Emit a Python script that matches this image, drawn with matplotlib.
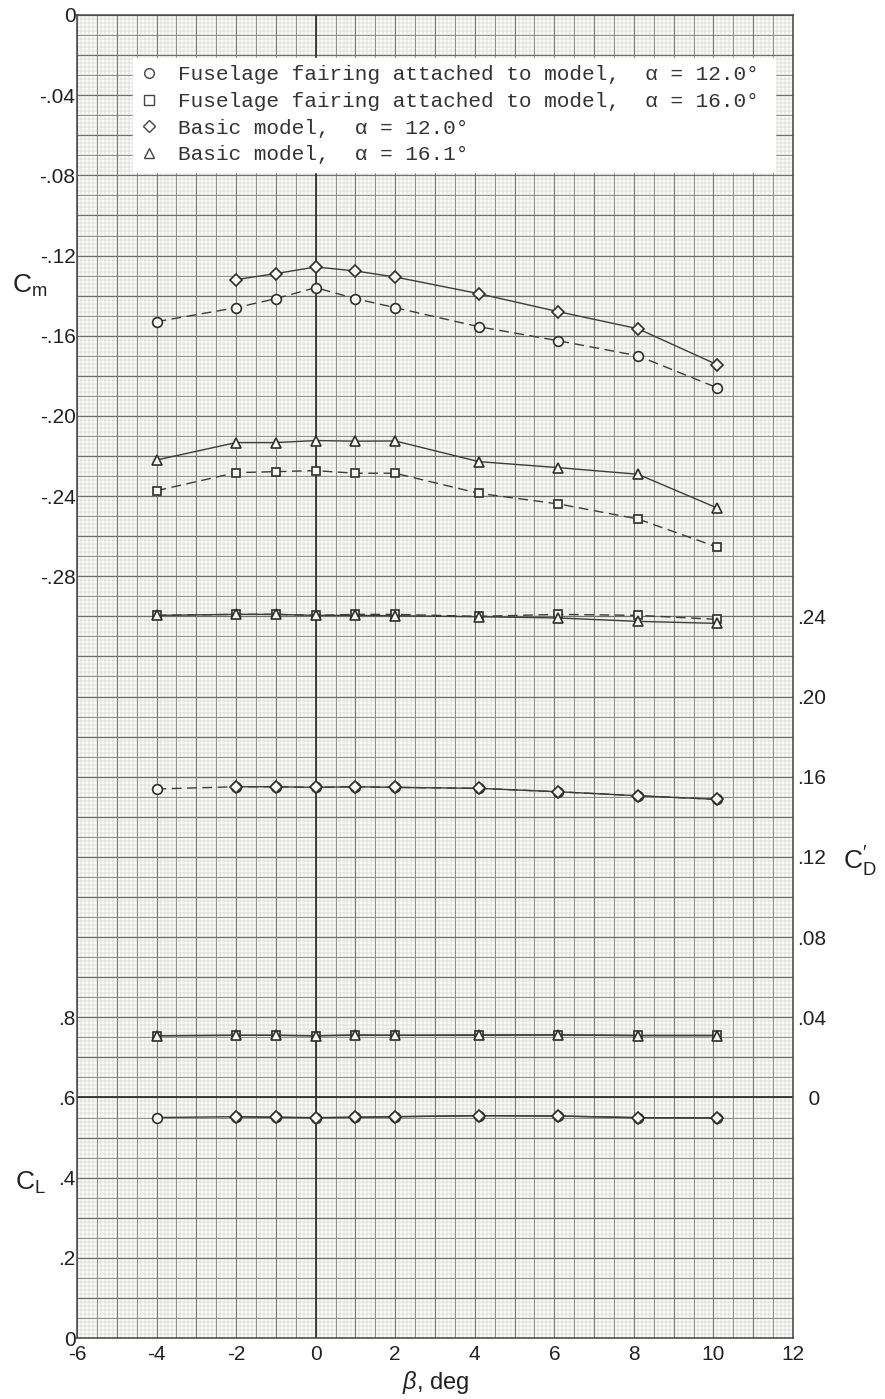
import matplotlib
matplotlib.use("Agg")
import matplotlib.pyplot as plt
import numpy as np
from matplotlib.lines import Line2D
from matplotlib.ticker import FixedLocator, FixedFormatter

# ---------------- data ----------------
beta = [-4.0, -2.0, -1.0, 0.0, 1.0, 2.0, 4.1, 6.1, 8.1, 10.1]
beta_basic12 = [-2.0, -1.0, 0.0, 1.0, 2.0, 4.1, 6.1, 8.1, 10.1]

cm_fair12 = [-0.153, -0.146, -0.1415, -0.136, -0.1415, -0.146, -0.1555, -0.1625, -0.170, -0.186]
cm_fair16 = [-0.2373, -0.2283, -0.2278, -0.2273, -0.2286, -0.2286, -0.2386, -0.2439, -0.2514, -0.2655]
cm_basic12 = [-0.132, -0.129, -0.1257, -0.1277, -0.1307, -0.139, -0.148, -0.1565, -0.1745]
cm_basic16 = [-0.222, -0.2133, -0.2133, -0.2123, -0.2126, -0.2125, -0.2228, -0.2258, -0.2291, -0.246]

cd_fair12 = [0.1539, 0.1550, 0.1550, 0.1547, 0.1550, 0.1547, 0.1542, 0.1525, 0.1505, 0.1487]
cd_basic12 = [0.1550, 0.1550, 0.1547, 0.1550, 0.1547, 0.1542, 0.1525, 0.1505, 0.1487]
cd_fair16 = [0.2405, 0.2410, 0.2410, 0.2405, 0.2410, 0.2410, 0.2400, 0.2410, 0.2405, 0.2385]
cd_basic16 = [0.2405, 0.2410, 0.2410, 0.2405, 0.2405, 0.2403, 0.2398, 0.2392, 0.2375, 0.2365]

cl_fair12 = [0.550, 0.552, 0.5505, 0.5496, 0.5505, 0.552, 0.5546, 0.5537, 0.5496, 0.5488]
cl_basic12 = [0.552, 0.5505, 0.5496, 0.5505, 0.552, 0.5546, 0.5537, 0.5496, 0.5488]
cl_fair16 = [0.754, 0.755, 0.755, 0.754, 0.756, 0.755, 0.756, 0.756, 0.755, 0.755]
cl_basic16 = [0.754, 0.755, 0.755, 0.754, 0.755, 0.755, 0.755, 0.756, 0.754, 0.754]

legend_labels = [
    "Fuselage fairing attached to model,  \u03b1 = 12.0\u00b0",
    "Fuselage fairing attached to model,  \u03b1 = 16.0\u00b0",
    "Basic model,  \u03b1 = 12.0\u00b0",
    "Basic model,  \u03b1 = 16.1\u00b0",
]

x_ticks = [-6, -4, -2, 0, 2, 4, 6, 8, 10, 12]
x_ticklabels = ["-6", "-4", "-2", "0", "2", "4", "6", "8", "10", "12"]
cm_ticks = [0, -0.04, -0.08, -0.12, -0.16, -0.20, -0.24, -0.28]
cm_ticklabels = ["0", "-.04", "-.08", "-.12", "-.16", "-.20", "-.24", "-.28"]
cl_ticks = [0, 0.2, 0.4, 0.6, 0.8]
cl_ticklabels = ["0", ".2", ".4", ".6", ".8"]
cd_ticks = [0, 0.04, 0.08, 0.12, 0.16, 0.20, 0.24]
cd_ticklabels = ["  0", ".04", ".08", ".12", ".16", ".20", ".24"]

# ---------------- style ----------------
plt.rcParams["font.family"] = ["Liberation Sans", "DejaVu Sans"]
plt.rcParams["mathtext.fontset"] = "custom"
plt.rcParams["mathtext.rm"] = "Liberation Sans"
plt.rcParams["mathtext.it"] = "Liberation Sans:italic"
plt.rcParams["mathtext.bf"] = "Liberation Sans:bold"

W, H = 885, 1399
fig = plt.figure(figsize=(W / 100, H / 100), dpi=100)
fig.patch.set_facecolor("white")

L, R, T, B = 77, 793, 15, 1338
ax = fig.add_axes([L / W, 1 - B / H, (R - L) / W, (B - T) / H])
ax.set_facecolor("#fafaf8")

XMIN, XMAX = -6, 12
ax.set_xlim(XMIN, XMAX)
ax.set_ylim(0, 3.3)          # C_L scale (one heavy interval = 0.1)

# graph-paper grid
xs_fine = np.arange(XMIN, XMAX + 1e-9, 0.1)
ys_fine = np.arange(0, 3.3 + 1e-9, 0.01)
ax.vlines(xs_fine, 0, 3.3, colors="#c6c6c6", linewidth=0.35, zorder=0.5)
ax.hlines(ys_fine, XMIN, XMAX, colors="#c6c6c6", linewidth=0.35, zorder=0.5)
xs_med = np.arange(XMIN, XMAX + 1e-9, 0.5)
ys_med = np.arange(0, 3.3 + 1e-9, 0.05)
ax.vlines(xs_med, 0, 3.3, colors="#8e8e8e", linewidth=0.7, zorder=0.6)
ax.hlines(ys_med, XMIN, XMAX, colors="#8e8e8e", linewidth=0.7, zorder=0.6)
ys_heavy = np.arange(0, 3.3 + 1e-9, 0.1)
ax.hlines(ys_heavy, XMIN, XMAX, colors="#6e6e6e", linewidth=0.9, zorder=0.7)
xs_heavy = np.arange(XMIN, XMAX + 1e-9, 1.0)
ax.vlines(xs_heavy, 0, 3.3, colors="#7a7a7a", linewidth=0.8, zorder=0.7)
# reference axes
ax.axvline(0, color="#333333", linewidth=1.3, zorder=0.8)
ax.axhline(0.6, color="#333333", linewidth=1.3, zorder=0.8)

for s in ax.spines.values():
    s.set_color("#444444")
    s.set_linewidth(1.1)

ax.xaxis.set_major_locator(FixedLocator(x_ticks))
ax.xaxis.set_major_formatter(FixedFormatter(x_ticklabels))
ax.yaxis.set_major_locator(FixedLocator(cl_ticks))
ax.yaxis.set_major_formatter(FixedFormatter(cl_ticklabels))
ax.tick_params(axis="both", length=0, labelsize=15, colors="#222222")
ax.tick_params(axis="x", pad=5)
ax.tick_params(axis="y", pad=1)

# Cm axis (left, upper part)
ax_cm = ax.twinx()
ax_cm.set_ylim(-0.66, 0.0)
ax_cm.yaxis.tick_left()
ax_cm.yaxis.set_major_locator(FixedLocator(cm_ticks))
ax_cm.yaxis.set_major_formatter(FixedFormatter(cm_ticklabels))
ax_cm.tick_params(axis="y", length=0, labelsize=15, colors="#222222", pad=1)

# CD' axis (right)
ax_cd = ax.twinx()
ax_cd.set_ylim(-0.12, 0.54)
ax_cd.yaxis.tick_right()
ax_cd.yaxis.set_major_locator(FixedLocator(cd_ticks))
ax_cd.yaxis.set_major_formatter(FixedFormatter(cd_ticklabels))
ax_cd.tick_params(axis="y", length=0, labelsize=15, colors="#222222", pad=3)

for a in (ax_cm, ax_cd):
    for s in a.spines.values():
        s.set_visible(False)

lc = "#3c3c3c"
mec = "#2e2e2e"
mfc = "#f7f7f5"
dash = (0, (7, 4))
mk = dict(circle=dict(marker="o", ms=7.0), square=dict(marker="s", ms=6.2),
          diamond=dict(marker="D", ms=6.0), tri=dict(marker="^", ms=7.5))

def series(a, x, y, kind, ls):
    a.plot(x, y, color=lc, linewidth=1.0, linestyle=ls, zorder=2,
           mec=mec, mfc=mfc, mew=1.2, **mk[kind])

# Cm
series(ax_cm, beta, cm_fair12, "circle", dash)
series(ax_cm, beta, cm_fair16, "square", dash)
series(ax_cm, beta_basic12, cm_basic12, "diamond", "-")
series(ax_cm, beta, cm_basic16, "tri", "-")
# CD'
series(ax_cd, beta, cd_fair12, "circle", dash)
series(ax_cd, beta, cd_fair16, "square", dash)
series(ax_cd, beta_basic12, cd_basic12, "diamond", "-")
series(ax_cd, beta, cd_basic16, "tri", "-")
# CL
series(ax, beta, cl_fair12, "circle", "-")
series(ax, beta, cl_fair16, "square", "-")
series(ax, beta_basic12, cl_basic12, "diamond", "-")
series(ax, beta, cl_basic16, "tri", "-")

# legend
handles = [
    Line2D([], [], linestyle="none", marker="o", ms=7, mfc="white", mec="#444444", mew=1.0),
    Line2D([], [], linestyle="none", marker="s", ms=6.5, mfc="white", mec="#444444", mew=1.0),
    Line2D([], [], linestyle="none", marker="D", ms=6, mfc="white", mec="#444444", mew=1.0),
    Line2D([], [], linestyle="none", marker="^", ms=7, mfc="white", mec="#444444", mew=1.0),
]
ax_h = B - T
bx0 = (133 - L) / (R - L)
bw = (775 - 133) / (R - L)
btop = (B - 58) / ax_h
bbot = (B - 167) / ax_h
leg = ax_cd.legend(handles, legend_labels, loc="upper left",
                   bbox_to_anchor=(bx0, bbot, bw, btop - bbot), mode="expand",
                   borderaxespad=0, frameon=True, fancybox=False,
                   prop={"family": "Liberation Mono", "size": 15.2},
                   handlelength=0.8, handletextpad=1.0, labelspacing=0.36,
                   borderpad=0.35, labelcolor="#333333")
leg.get_frame().set_facecolor("white")
leg.get_frame().set_edgecolor("white")
leg.get_frame().set_alpha(1)
leg.set_zorder(10)

# axis labels
fig.text(30 / W, 1 - 286 / H, r"$\mathrm{C_m}$", fontsize=19, color="#222222",
         ha="center", va="center")
fig.text(30 / W, 1 - 1183 / H, r"$\mathrm{C_L}$", fontsize=19, color="#222222",
         ha="center", va="center")
fig.text(860 / W, 1 - 862 / H, r"$\mathrm{C}^{\prime}_{\mathrm{D}}$", fontsize=19,
         color="#222222", ha="center", va="center")
fig.text(436 / W, 1 - 1383 / H, r"$\beta$, deg", fontsize=17, color="#222222",
         ha="center", va="center")

fig.savefig("out.png", dpi=100, facecolor="white")
